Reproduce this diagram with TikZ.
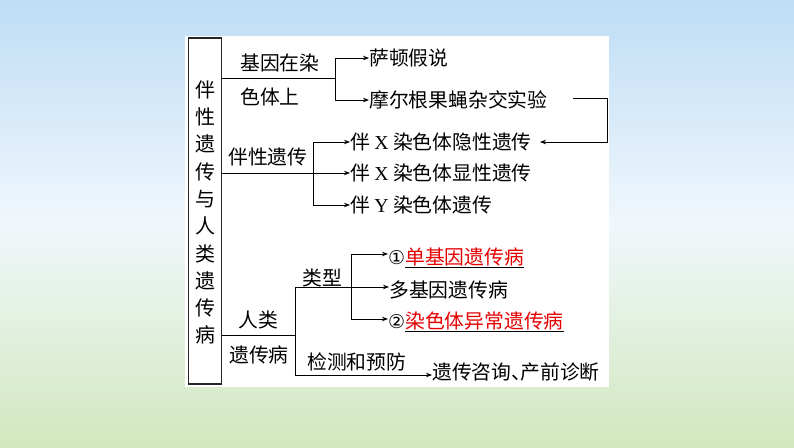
\documentclass[tikz,border=0pt]{standalone}
\usepackage{fontspec}
\setmainfont{Liberation Serif}
\newfontfamily\cjk{Noto Sans CJK SC}
\newfontfamily\symfont{DejaVu Sans}
\usetikzlibrary{arrows.meta}
\definecolor{skyblue}{RGB}{190,221,245}
\definecolor{skylight}{RGB}{240,247,252}
\definecolor{grass}{RGB}{210,232,190}
\definecolor{redtxt}{RGB}{230,0,0}
\tikzset{
  lbl/.style={font=\cjk\fontsize{19.8}{22}\selectfont, inner sep=0pt, anchor=west},
  conn/.style={draw=black, line width=0.9pt},
  arr/.style={conn, -{Stealth[length=6pt,width=4.5pt]}},
}
\newcommand{\redul}[1]{\underline{\textcolor{redtxt}{#1}}}
\newcommand{\circnum}[1]{{\symfont\fontsize{19}{22}\selectfont #1}}
\begin{document}
\begin{tikzpicture}[x=1pt,y=-1pt]
\useasboundingbox (0,0) rectangle (794,447);
% background
\shade[top color=skyblue, bottom color=grass, middle color=skylight] (0,0) rectangle (794,447);
\fill[white] (185,36) rectangle (609,387);
% left box
\node[draw=black!85, line width=1.2pt, minimum width=33pt, minimum height=346pt, inner sep=0pt] (main) at (205,211) {};
\node[font=\cjk\fontsize{20}{27.3}\selectfont, align=center, inner sep=0pt] (maintxt) at (205,212.5) {伴\\性\\遗\\传\\与\\人\\类\\遗\\传\\病};
% coordinates
\coordinate (b1s) at (222,78);
\coordinate (b1j) at (335,78);
\coordinate (b1t) at (335,58);
\coordinate (b1b) at (335,100);
\coordinate (b2s) at (222,173);
\coordinate (b2j) at (313,173);
\coordinate (b2t) at (313,142);
\coordinate (b2b) at (313,205);
\coordinate (b3s) at (222,335);
\coordinate (b3j) at (295,335);
\coordinate (b3t) at (295,287);
\coordinate (b3b) at (295,375);
\coordinate (b4j) at (351,287);
\coordinate (b4t) at (351,254);
\coordinate (b4b) at (351,319);
\coordinate (cs) at (573,98);
\coordinate (cr) at (607,98);
\coordinate (ce) at (540,142);
% texts
\node[lbl] (t11) at (240,63) {基因在染};
\node[lbl] (t12) at (240,97) {色体上};
\node[lbl] (sd) at (369,58) {萨顿假说};
\node[lbl] (mg) at (369,100) {摩尔根果蝇杂交实验};
\node[lbl] (t2) at (228,157) {伴性遗传};
\node[lbl] (x1) at (350,142) {伴 {\rmfamily X} 染色体隐性遗传};
\node[lbl] (x2) at (350,173) {伴 {\rmfamily X} 染色体显性遗传};
\node[lbl] (y1) at (350,205) {伴 {\rmfamily Y} 染色体遗传};
\node[lbl] (t31) at (238,320) {人类};
\node[lbl] (t32) at (229,355) {遗传病};
\node[lbl] (lx) at (302,278) {类型};
\node[lbl] (jc) at (307,362) {检测和预防};
\node[lbl] (d1) at (388,258) {\circnum{①}\redul{单基因遗传病}};
\node[lbl] (d2) at (389,290) {多基因遗传病};
\node[lbl] (d3) at (388,322) {\circnum{②}\redul{染色体异常遗传病}};
\node[lbl] (zx) at (432,372) {遗传咨询\makebox[9pt][l]{、}产前诊断};
% connectors
\draw[conn] (b1s) -- (b1j);
\draw[conn] (b1t) -- (b1b);
\draw[arr] (b1t) -- (sd.west);
\draw[arr] (b1b) -- (mg.west);
\draw[conn] (b2s) -- (b2j);
\draw[conn] (b2t) -- (b2b);
\draw[arr] (b2t) -- (x1.west);
\draw[arr] (b2j) -- (x2.west);
\draw[arr] (b2b) -- (y1.west);
\draw[arr] (cs) -- (cr) |- (ce);
\draw[conn] (b3s) -- (b3j);
\draw[conn] (b3t) -- (b3b);
\draw[conn] (b4t) -- (b4b);
\draw[arr] (b4t) -- (d1.west |- b4t);
\draw[arr] (b3t) -- (d2.west |- b3t);
\draw[arr] (b4b) -- (d3.west |- b4b);
\draw[arr] (b3b) -- (zx.west |- b3b);
\end{tikzpicture}
\end{document}
